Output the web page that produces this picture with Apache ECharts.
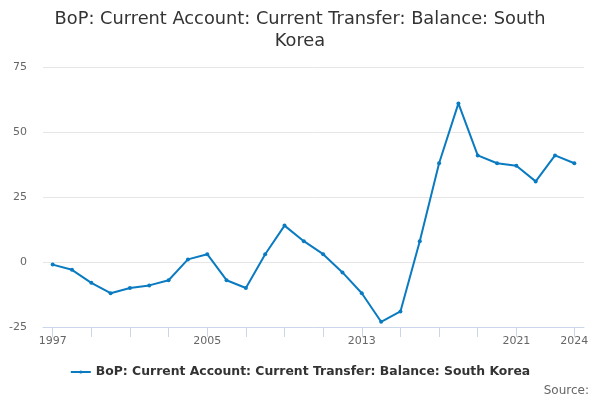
<!DOCTYPE html>
<html>
<head>
<meta charset="utf-8">
<script src="https://cdn.jsdelivr.net/npm/echarts@6/dist/echarts.min.js"></script>
<style>
  html, body { margin: 0; padding: 0; background: #fff; }
  #chart { width: 600px; height: 400px; }
</style>
</head>
<body>
<div id="chart"></div>
<script>
const years = [1997, 1998, 1999, 2000, 2001, 2002, 2003, 2004, 2005, 2006, 2007, 2008, 2009, 2010,
  2011, 2012, 2013, 2014, 2015, 2016, 2017, 2018, 2019, 2020, 2021, 2022, 2023, 2024]
const balance = [-1, -3, -8, -12, -10, -9, -7, 1, 3, -7, -10, 3, 14, 8,
  3, -4, -12, -23, -19, 8, 38, 61, 41, 38, 37, 31, 41, 38]
const tickYears = [1997, 1999, 2001, 2003, 2005, 2007, 2009, 2011, 2013, 2015, 2017, 2019, 2021, 2024]
const labelYears = [1997, 2005, 2013, 2021, 2024]
const seriesName = 'BoP: Current Account: Current Transfer: Balance: South Korea'

const chart = echarts.init(document.getElementById('chart'))

chart.setOption({
  animation: false,
  textStyle: { fontFamily: 'DejaVu Sans' },
  title: {
    text: 'BoP: Current Account: Current Transfer: Balance: South\nKorea',
    left: 'center',
    top: 3,
    textStyle: { fontSize: 17.8, fontWeight: 'normal', color: '#333', lineHeight: 22 }
  },
  legend: {
    bottom: 17,
    left: 'center',
    itemWidth: 20,
    itemHeight: 4,
    textStyle: { fontSize: 12.4, fontWeight: 'bold', color: '#333' },
    data: [seriesName]
  },
  graphic: [{
    type: 'text',
    right: 11,
    bottom: 3,
    style: { text: 'Source:', fontSize: 12, fill: '#666', fontFamily: 'DejaVu Sans' }
  }],
  grid: { left: 43, right: 16, top: 67, bottom: 73 },
  xAxis: {
    type: 'value',
    min: 1996.5,
    max: 2024.5,
    splitLine: { show: false },
    axisLine: { show: true, onZero: false, lineStyle: { color: '#ccd6eb' } },
    axisTick: { show: true, length: 10, customValues: tickYears, lineStyle: { color: '#ccd6eb' } },
    axisLabel: { customValues: labelYears, color: '#666', fontSize: 11, margin: 9, formatter: v => String(v) }
  },
  yAxis: {
    type: 'value',
    min: -25,
    max: 75,
    interval: 25,
    axisLine: { show: false },
    axisTick: { show: false },
    axisLabel: { color: '#666', fontSize: 11, margin: 16 },
    splitLine: { lineStyle: { color: '#e6e6e6' } }
  },
  series: [{
    name: seriesName,
    type: 'line',
    data: years.map((y, i) => [y, balance[i]]),
    symbol: 'circle',
    symbolSize: 4,
    itemStyle: { color: '#0a7bc1' },
    lineStyle: { color: '#0a7bc1', width: 2 }
  }]
})
</script>
</body>
</html>
